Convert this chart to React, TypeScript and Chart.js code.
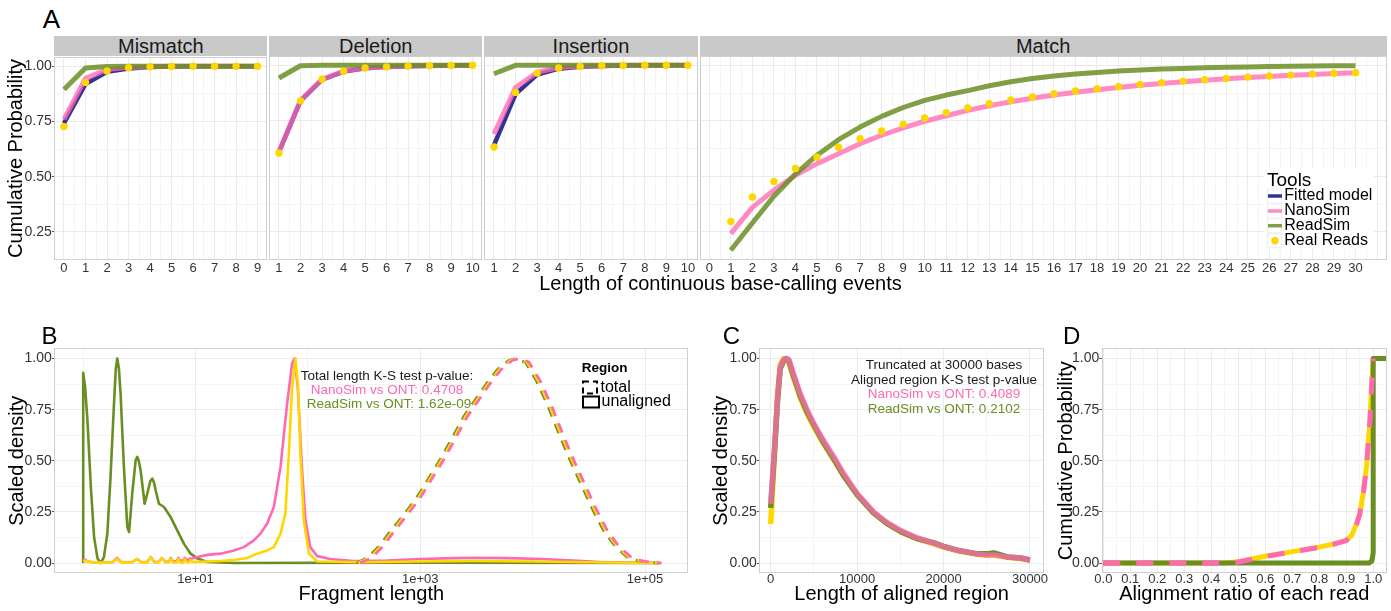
import React, { useEffect, useRef } from 'react';
import { Chart, registerables } from 'chart.js';

Chart.register(...registerables);

const FONT = '"Liberation Sans", Arial, Helvetica, sans-serif';

// ================= Panel A data (cumulative probability) =================
const mismatchLength = [0, 1, 2, 3, 4, 5, 6, 7, 8, 9];
const mismatchFitted = [0.742, 0.92, 0.975, 0.99, 0.997, 0.999, 1, 1, 1, 1];
const mismatchNanoSim = [0.76, 0.945, 0.985, 0.995, 0.998, 1, 1, 1, 1, 1];
const mismatchReadSim = [0.895, 0.992, 0.999, 1, 1, 1, 1, 1, 1, 1];
const mismatchReal = [0.727, 0.927, 0.979, 0.993, 0.998, 0.999, 1, 1, 1, 1];

const deletionLength = [1, 2, 3, 4, 5, 6, 7, 8, 9, 10];
const deletionFitted = [0.61, 0.84, 0.935, 0.972, 0.987, 0.993, 0.996, 0.998, 0.999, 1];
const deletionNanoSim = [0.612, 0.843, 0.937, 0.974, 0.988, 0.994, 0.997, 0.998, 0.999, 1];
const deletionReadSim = [0.943, 0.998, 1, 1, 1, 1, 1, 1, 1, 1];
const deletionReal = [0.605, 0.84, 0.937, 0.973, 0.988, 0.993, 0.996, 0.998, 0.999, 1];

const insertionLength = [1, 2, 3, 4, 5, 6, 7, 8, 9, 10];
const insertionFitted = [0.64, 0.87, 0.958, 0.985, 0.994, 0.997, 0.999, 1, 1, 1];
const insertionNanoSim = [0.69, 0.9, 0.968, 0.99, 0.996, 0.998, 0.999, 1, 1, 1];
const insertionReadSim = [0.962, 1, 1, 1, 1, 1, 1, 1, 1, 1];
const insertionReal = [0.632, 0.878, 0.965, 0.988, 0.995, 0.998, 0.999, 1, 1, 1];

const matchLength = [1, 2, 3, 4, 5, 6, 7, 8, 9, 10, 11, 12, 13, 14, 15, 16, 17, 18, 19, 20, 21, 22, 23, 24, 25, 26, 27, 28, 29, 30];
const matchNanoSim = [0.242, 0.36, 0.438, 0.505, 0.557, 0.602, 0.647, 0.685, 0.718, 0.748, 0.773, 0.797, 0.818, 0.836, 0.852, 0.866, 0.879, 0.89, 0.9, 0.91, 0.918, 0.926, 0.933, 0.939, 0.945, 0.95, 0.955, 0.959, 0.963, 0.967];
const matchReadSim = [0.167, 0.29, 0.41, 0.51, 0.595, 0.665, 0.722, 0.77, 0.81, 0.842, 0.866, 0.886, 0.908, 0.926, 0.941, 0.952, 0.961, 0.968, 0.974, 0.979, 0.983, 0.986, 0.989, 0.991, 0.993, 0.995, 0.996, 0.997, 0.998, 0.998];
const matchReal = [0.297, 0.407, 0.477, 0.535, 0.586, 0.631, 0.67, 0.704, 0.734, 0.763, 0.787, 0.808, 0.827, 0.844, 0.857, 0.872, 0.884, 0.895, 0.904, 0.914, 0.922, 0.929, 0.935, 0.941, 0.947, 0.952, 0.956, 0.961, 0.964, 0.967];

const aYTicks = [0.25, 0.5, 0.75, 1.0];
const aYGrid = [0.125, 0.25, 0.375, 0.5, 0.625, 0.75, 0.875, 1.0];

// ================= Panel B data (fragment length densities) =================
const bUnalignedReadSimLength = [1, 1, 1.04, 1.09, 1.17, 1.25, 1.34, 1.43, 1.53, 1.64, 1.75, 1.88, 1.95, 2.01, 2.08, 2.15, 2.31, 2.47, 2.56, 2.73, 2.93, 3.03, 3.12, 3.24, 3.52, 3.72, 3.95, 4.12, 4.28, 4.41, 4.72, 5.23, 6.0, 6.87, 7.87, 9.03, 10.4, 12.7, 21.9, 1000, 135000];
const bUnalignedReadSimDensity = [0, 0.93, 0.86, 0.7, 0.37, 0.127, 0.023, 0, 0.03, 0.144, 0.42, 0.78, 0.95, 1, 0.95, 0.83, 0.454, 0.176, 0.152, 0.34, 0.503, 0.519, 0.5, 0.454, 0.29, 0.34, 0.4, 0.413, 0.39, 0.356, 0.29, 0.274, 0.225, 0.16, 0.095, 0.046, 0.022, 0.005, 0, 0.002, 0];

const bUnalignedNanoSimLength = [1, 1.1, 1.3, 1.8, 2, 2.2, 2.7, 3, 3.3, 3.7, 4, 4.3, 4.7, 5, 5.4, 5.8, 6, 6.3, 6.8, 7, 7.3, 7.8, 8, 8.4, 8.8, 9, 9.5, 10.4, 12.7, 16.7, 21.9, 26.9, 33, 37.8, 43.4, 49.7, 57, 65.3, 72.3, 75.9, 81.1, 88.7, 95, 105, 121, 158, 255, 500, 1000, 2000, 3000, 6000, 12000, 23000, 40000, 63000, 135000];
const bUnalignedNanoSimDensity = [0.02, 0.008, 0.002, 0.003, 0.025, 0.003, 0.003, 0.02, 0.004, 0.004, 0.03, 0.005, 0.006, 0.025, 0.006, 0.008, 0.025, 0.008, 0.01, 0.025, 0.012, 0.014, 0.025, 0.016, 0.018, 0.022, 0.024, 0.03, 0.04, 0.046, 0.062, 0.078, 0.111, 0.144, 0.193, 0.274, 0.47, 0.78, 0.976, 1, 0.861, 0.454, 0.209, 0.078, 0.034, 0.02, 0.01, 0.012, 0.02, 0.024, 0.026, 0.024, 0.02, 0.012, 0.005, 0.002, 0];

const bUnalignedOntLength = [1, 1.3, 1.8, 2, 2.2, 2.7, 3, 3.3, 3.7, 4, 4.3, 4.7, 5, 5.4, 5.8, 6, 6.3, 6.8, 7, 7.3, 7.8, 8, 8.4, 8.8, 9, 9.5, 10.4, 16.7, 21.9, 28.8, 35.3, 43.4, 49.7, 57, 63, 67.6, 72.3, 77.4, 81.8, 85.7, 91.8, 102, 121, 300, 1000, 3000, 10000, 30000, 135000];
const bUnalignedOntDensity = [0.012, 0.002, 0.002, 0.02, 0.002, 0.002, 0.02, 0.002, 0.002, 0.028, 0.003, 0.003, 0.025, 0.003, 0.003, 0.022, 0.003, 0.003, 0.02, 0.003, 0.003, 0.02, 0.004, 0.004, 0.015, 0.005, 0.006, 0.01, 0.015, 0.025, 0.046, 0.062, 0.078, 0.144, 0.242, 0.535, 0.86, 1, 0.86, 0.535, 0.209, 0.046, 0.008, 0.004, 0.008, 0.01, 0.008, 0.004, 0];

const bTotalOntLength = [280, 355, 450, 560, 710, 890, 1000, 1260, 1590, 2000, 2510, 3160, 3980, 5010, 6310, 7240, 8910, 11200, 14100, 17800, 22400, 28200, 35500, 44700, 56200, 70800, 89100, 112000, 135000];
const bTotalOnt = [0, 0.028, 0.085, 0.155, 0.225, 0.295, 0.335, 0.425, 0.515, 0.615, 0.715, 0.795, 0.875, 0.945, 0.99, 1, 0.982, 0.89, 0.77, 0.63, 0.5, 0.38, 0.26, 0.155, 0.082, 0.032, 0.011, 0.003, 0];
const bTotalReadSimLength = [272, 344, 437, 543, 689, 863, 970, 1222, 1542, 1940, 2435, 3065, 3861, 4860, 6121, 7023, 8643, 10864, 13677, 17266, 21728, 27354, 34435, 43359, 54514, 68676, 86427, 108640, 130950];
const bTotalReadSim = [0, 0.03, 0.087, 0.157, 0.226, 0.296, 0.336, 0.426, 0.516, 0.616, 0.716, 0.796, 0.876, 0.946, 0.99, 1, 0.981, 0.888, 0.768, 0.628, 0.498, 0.378, 0.258, 0.153, 0.081, 0.031, 0.011, 0.003, 0];
const bTotalNanoSimLength = [291, 369, 468, 582, 738, 926, 1040, 1310, 1654, 2080, 2610, 3286, 4139, 5210, 6562, 7530, 9266, 11648, 14664, 18512, 23296, 29328, 36920, 46488, 58448, 73632, 92664, 116480, 140400];
const bTotalNanoSim = [0, 0.026, 0.083, 0.153, 0.224, 0.294, 0.334, 0.424, 0.514, 0.614, 0.714, 0.794, 0.874, 0.944, 0.99, 1, 0.983, 0.892, 0.772, 0.632, 0.502, 0.382, 0.262, 0.157, 0.083, 0.033, 0.012, 0.003, 0];

const bXTicks = [10, 1000, 100000];
const bXTickLabels = ['1e+01', '1e+03', '1e+05'];
const bXGrid = [1, 10, 100, 1000, 10000, 100000];

// ================= Panel C data (aligned region length) =================
const cLength = [0, 400, 800, 1100, 1500, 1800, 2100, 2600, 3400, 4200, 5000, 6100, 7300, 8400, 10000, 11900, 13400, 15000, 16900, 18800, 20000, 21900, 23900, 25000, 25800, 27400, 28900, 30000];
const cNanoSim = [0.29, 0.54, 0.81, 0.96, 0.995, 1, 0.995, 0.93, 0.83, 0.75, 0.68, 0.6, 0.52, 0.44, 0.34, 0.25, 0.2, 0.16, 0.124, 0.098, 0.08, 0.06, 0.045, 0.04, 0.04, 0.03, 0.025, 0.015];
const cReadSim = [0.27, 0.52, 0.8, 0.95, 0.99, 1, 0.99, 0.92, 0.82, 0.74, 0.675, 0.59, 0.51, 0.43, 0.335, 0.245, 0.195, 0.155, 0.12, 0.1, 0.082, 0.06, 0.045, 0.045, 0.05, 0.03, 0.025, 0.015];
const cOnt = [0.19, 0.5, 0.83, 0.97, 1, 0.995, 0.98, 0.91, 0.81, 0.73, 0.665, 0.585, 0.505, 0.43, 0.335, 0.245, 0.195, 0.155, 0.12, 0.095, 0.078, 0.058, 0.043, 0.038, 0.038, 0.028, 0.022, 0.015];
const cXTicks = [0, 10000, 20000, 30000];
const cXGrid = [0, 5000, 10000, 15000, 20000, 25000, 30000];

// ================= Panel D data (alignment ratio CDF) =================
const dRatio = [0, 0.45, 0.5, 0.55, 0.6, 0.7, 0.8, 0.85, 0.9, 0.92, 0.938, 0.95, 0.963, 0.975, 0.988, 0.994, 1];
const dOnt = [0, 0, 0.006, 0.02, 0.033, 0.056, 0.078, 0.092, 0.111, 0.135, 0.19, 0.24, 0.34, 0.47, 0.7, 0.86, 1];
const dNanoSim = [0, 0, 0.005, 0.019, 0.032, 0.055, 0.077, 0.091, 0.11, 0.134, 0.188, 0.238, 0.338, 0.468, 0.7, 0.86, 1];
const dReadSimRatio = [0, 0.985, 0.995, 1, 1, 1.05];
const dReadSim = [0, 0, 0.01, 0.05, 1, 1];
const dXTicks = [0, 0.1, 0.2, 0.3, 0.4, 0.5, 0.6, 0.7, 0.8, 0.9, 1.0];
const dXGrid = [0, 0.05, 0.1, 0.15, 0.2, 0.25, 0.3, 0.35, 0.4, 0.45, 0.5, 0.55, 0.6, 0.65, 0.7, 0.75, 0.8, 0.85, 0.9, 0.95, 1.0, 1.05];

const densityTicks = [0, 0.25, 0.5, 0.75, 1];
const densityGrid = [0, 0.125, 0.25, 0.375, 0.5, 0.625, 0.75, 0.875, 1];

// ================= Styling =================
const PINK = '#ff69b4';
const PINK_A = 'rgba(255,105,180,0.78)';
const PINK_C = 'rgba(255,105,180,0.75)';
const GREEN = '#6b8e23';
const GREEN_A = 'rgba(107,142,35,0.85)';
const BLUE_A = 'rgba(38,40,140,0.95)';
const GOLD = '#ffd700';
const GRID_MAJOR = '#ebebeb';
const GRID_MINOR = '#f5f5f5';
const PANEL_BORDER = '#cfcfcf';
const TICK_COLOR = '#333333';
const TICK_MARK = '#555555';

type Box = { l: number; t: number; w: number; h: number };
type Area = { l: number; t: number; r: number; b: number };

const near = (a: number, b: number) => Math.abs(a - b) < 1e-9 * Math.max(1, Math.abs(b));
const pts = (xs: number[], ys: number[]) => xs.map((x, i) => ({ x, y: ys[i] }));

function gridScale(o: any) {
  const tickLen = o.tickMarks ? 2.5 : 0;
  return {
    type: o.type || 'linear',
    min: o.min,
    max: o.max,
    afterBuildTicks: (s: any) => {
      s.ticks = o.values.map((v: number) => ({ value: v }));
    },
    ticks: {
      display: o.showLabels,
      autoSkip: false,
      maxRotation: 0,
      minRotation: 0,
      padding: o.pad,
      color: TICK_COLOR,
      font: { family: FONT, size: o.size, lineHeight: 1 },
      callback: (v: number) => o.label(v),
    },
    grid: {
      display: true,
      drawTicks: !!o.tickMarks,
      tickLength: tickLen,
      tickWidth: 1,
      tickColor: (c: any) => (c.tick && o.label(c.tick.value) !== '' ? TICK_MARK : 'rgba(0,0,0,0)'),
      lineWidth: 1,
      color: (c: any) => (c.tick && o.major(c.tick.value) ? GRID_MAJOR : GRID_MINOR),
    },
    border: { display: false },
    title: o.title
      ? {
          display: true,
          text: o.title,
          color: '#000',
          font: { family: FONT, size: 20, lineHeight: 1.2 },
          padding: { top: o.titlePad, bottom: o.titlePad },
        }
      : { display: false },
  };
}

function makeOptions(box: Box, area: Area, x: any, y: any) {
  x.afterFit = (s: any) => {
    s.height = box.t + box.h - area.b;
  };
  y.afterFit = (s: any) => {
    s.width = area.l - box.l;
  };
  return {
    responsive: false,
    maintainAspectRatio: false,
    animation: false,
    devicePixelRatio: 1,
    events: [],
    layout: {
      autoPadding: false,
      padding: { left: 0, bottom: 0, top: area.t - box.t, right: box.l + box.w - area.r },
    },
    plugins: { legend: { display: false }, tooltip: { enabled: false }, title: { display: false } },
    scales: { x, y },
  };
}

const panelBorder = {
  id: 'panelBorder',
  afterDraw(chart: any) {
    const { ctx, chartArea: a } = chart;
    ctx.save();
    ctx.strokeStyle = PANEL_BORDER;
    ctx.lineWidth = 1;
    const l = Math.round(a.left), t = Math.round(a.top), r = Math.round(a.right), b = Math.round(a.bottom);
    ctx.strokeRect(l + 0.5, t + 0.5, r - l - 1, b - t - 1);
    ctx.restore();
  },
};

function overlay(id: string, box: Box, hook: string, draw: (ctx: CanvasRenderingContext2D) => void) {
  return {
    id,
    [hook](chart: any) {
      const ctx = chart.ctx;
      ctx.save();
      ctx.translate(-box.l, -box.t);
      draw(ctx);
      ctx.restore();
    },
  };
}

function txt(ctx: CanvasRenderingContext2D, s: string, x: number, y: number, o: any = {}) {
  ctx.font = `${o.bold ? 'bold ' : ''}${o.size || 14}px ${FONT}`;
  ctx.fillStyle = o.color || '#1a1a1a';
  ctx.textAlign = o.align || 'left';
  ctx.textBaseline = 'middle';
  ctx.fillText(s, x, y);
}

function lineDs(label: string, data: any[], color: string, width: number, dash?: number[], dashOffset = 0) {
  return {
    label,
    data,
    borderColor: color,
    backgroundColor: color,
    borderWidth: width,
    borderDash: dash || [],
    borderDashOffset: dashOffset,
    borderCapStyle: 'butt',
    borderJoinStyle: 'round',
    pointRadius: 0,
    fill: false,
    tension: 0,
  };
}

function pointDs(label: string, data: any[], color: string, r: number) {
  return {
    label,
    data,
    showLine: false,
    pointRadius: r,
    pointBackgroundColor: color,
    pointBorderWidth: 0,
    borderColor: color,
    backgroundColor: color,
  };
}

// ================= Panel A facets =================
const A_TOP = 56;
const A_BOTTOM = 260;
const A_Y_MIN = 0.123;
const A_Y_MAX = 1.042;

const facetSpecs = [
  { name: 'Mismatch', xs: mismatchLength, fitted: mismatchFitted, nano: mismatchNanoSim, read: mismatchReadSim, real: mismatchReal, al: 54.3, ar: 267.3, xmin: -0.45, xmax: 9.45, labelMax: 9 },
  { name: 'Deletion', xs: deletionLength, fitted: deletionFitted, nano: deletionNanoSim, read: deletionReadSim, real: deletionReal, al: 269.3, ar: 482.3, xmin: 0.55, xmax: 10.45, labelMax: 10 },
  { name: 'Insertion', xs: insertionLength, fitted: insertionFitted, nano: insertionNanoSim, read: insertionReadSim, real: insertionReal, al: 484.3, ar: 697.6, xmin: 0.55, xmax: 10.45, labelMax: 10 },
  { name: 'Match', xs: matchLength, fitted: null as number[] | null, nano: matchNanoSim, read: matchReadSim, real: matchReal, al: 699.6, ar: 1386.7, xmin: -0.45, xmax: 31.45, labelMax: 30 },
];

function facetBox(i: number): Box {
  const f = facetSpecs[i];
  const l = i === 0 ? 0 : Math.floor(f.al);
  return { l, t: 50, w: Math.ceil(f.ar) + 1 - l, h: 232 };
}

function toolsLegend(box: Box) {
  return overlay('toolsLegend', box, 'afterDraw', (ctx) => {
    ctx.fillStyle = '#ffffff';
    ctx.fillRect(1264, 169, 110, 80);
    txt(ctx, 'Tools', 1267, 181, { size: 19, color: '#000' });
    const rows = [
      { label: 'Fitted model', color: BLUE_A, y: 196 },
      { label: 'NanoSim', color: PINK_A, y: 211 },
      { label: 'ReadSim', color: GREEN_A, y: 225.7 },
      { label: 'Real Reads', color: GOLD, y: 240.7 },
    ];
    rows.forEach((r, k) => {
      ctx.strokeStyle = '#eeeeee';
      ctx.lineWidth = 1;
      ctx.strokeRect(1267.5, r.y - 7, 14, 14);
      if (k < 3) {
        ctx.strokeStyle = r.color;
        ctx.lineWidth = 3.5;
        ctx.beginPath();
        ctx.moveTo(1268, r.y);
        ctx.lineTo(1282, r.y);
        ctx.stroke();
      } else {
        ctx.fillStyle = GOLD;
        ctx.beginPath();
        ctx.arc(1275, r.y, 3.7, 0, Math.PI * 2);
        ctx.fill();
      }
      txt(ctx, r.label, 1284.3, r.y, { size: 16, color: '#000' });
    });
  });
}

function facetConfig(i: number) {
  const f = facetSpecs[i];
  const box = facetBox(i);
  const area = { l: f.al, t: A_TOP, r: f.ar, b: A_BOTTOM };
  const xVals: number[] = [];
  for (let v = Math.ceil(f.xmin * 2) / 2; v <= f.xmax + 1e-9; v += 0.5) xVals.push(v);
  const x = gridScale({
    min: f.xmin,
    max: f.xmax,
    values: xVals,
    major: (v: number) => Number.isInteger(v),
    label: (v: number) => (Number.isInteger(v) && v <= f.labelMax ? String(v) : ''),
    showLabels: true,
    size: 13,
    pad: 1.8,
  });
  const y = gridScale({
    min: A_Y_MIN,
    max: A_Y_MAX,
    values: aYGrid,
    major: (v: number) => aYTicks.some((t) => near(v, t)),
    label: (v: number) => (aYTicks.some((t) => near(v, t)) ? v.toFixed(2) : ''),
    showLabels: i === 0,
    tickMarks: i === 0,
    size: 14,
    pad: 0,
    title: i === 0 ? 'Cumulative Probability' : undefined,
    titlePad: 4,
  });
  const datasets: any[] = [
    pointDs('Real Reads', pts(f.xs, f.real), GOLD, 3.7),
    lineDs('ReadSim', pts(f.xs, f.read), GREEN_A, 5),
    lineDs('NanoSim', pts(f.xs, f.nano), PINK_A, 5),
  ];
  if (f.fitted) datasets.push(lineDs('Fitted model', pts(f.xs, f.fitted), BLUE_A, 4.5));
  const plugins: any[] = [panelBorder];
  if (f.name === 'Match') plugins.push(toolsLegend(box));
  return { type: 'line', data: { datasets }, options: makeOptions(box, area, x, y), plugins };
}

// ================= Panels B, C, D =================
const bBox: Box = { l: 0, t: 330, w: 700, h: 281 };
const bArea: Area = { l: 54.3, t: 348.3, r: 688.3, b: 573.3 };
const cBox: Box = { l: 706, t: 330, w: 344, h: 281 };
const cArea: Area = { l: 759.3, t: 348.3, r: 1044, b: 573.3 };
const dBox: Box = { l: 1049, t: 330, w: 342, h: 281 };
const dArea: Area = { l: 1101.7, t: 348.3, r: 1386.7, b: 573.3 };

function densityY(title: string, titlePad: number) {
  return gridScale({
    min: -0.05,
    max: 1.05,
    values: densityGrid,
    major: (v: number) => densityTicks.some((t) => near(v, t)),
    label: (v: number) => (densityTicks.some((t) => near(v, t)) ? v.toFixed(2) : ''),
    showLabels: true,
    tickMarks: true,
    size: 14,
    pad: 0,
    title,
    titlePad,
  });
}

function bConfig() {
  const x = gridScale({
    type: 'logarithmic',
    min: 0.553,
    max: 242700,
    values: bXGrid,
    major: (v: number) => bXTicks.some((t) => near(v, t)),
    label: (v: number) => {
      const i = bXTicks.findIndex((t) => near(v, t));
      return i >= 0 ? bXTickLabels[i] : '';
    },
    showLabels: true,
    size: 13,
    pad: 0,
    title: 'Fragment length',
    titlePad: 5,
  });
  const y = densityY('Scaled density', 5.7);
  const dash = [10, 8];
  const datasets = [
    lineDs('NanoSim total', pts(bTotalNanoSimLength, bTotalNanoSim), PINK, 2.7, dash, 0),
    lineDs('ONT total', pts(bTotalOntLength, bTotalOnt), GOLD, 2.7, dash, 0),
    lineDs('ReadSim total', pts(bTotalReadSimLength, bTotalReadSim), GREEN, 2.7, dash, 0),
    lineDs('ONT unaligned', pts(bUnalignedOntLength, bUnalignedOntDensity), GOLD, 2.6),
    lineDs('NanoSim unaligned', pts(bUnalignedNanoSimLength, bUnalignedNanoSimDensity), PINK, 2.6),
    lineDs('ReadSim unaligned', pts(bUnalignedReadSimLength, bUnalignedReadSimDensity), GREEN, 2.6),
  ];
  const annotation = overlay('bText', bBox, 'beforeDatasetsDraw', (ctx) => {
    txt(ctx, 'Total length K-S test p-value:', 387, 376, { size: 13.5, align: 'center' });
    txt(ctx, 'NanoSim vs ONT: 0.4708', 387, 390, { size: 13.5, align: 'center', color: PINK });
    txt(ctx, 'ReadSim vs ONT: 1.62e-09', 389, 404, { size: 13.5, align: 'center', color: GREEN });
  });
  const legend = overlay('bLegend', bBox, 'afterDraw', (ctx) => {
    txt(ctx, 'Region', 581.7, 368.3, { size: 13.5, bold: true, color: '#000' });
    ctx.strokeStyle = '#000';
    ctx.lineWidth = 2;
    ctx.setLineDash([6, 4]);
    ctx.strokeRect(583, 381.5, 14, 12);
    ctx.setLineDash([]);
    ctx.strokeRect(583, 396.5, 16, 11);
    txt(ctx, 'total', 600.5, 388, { size: 16, color: '#000' });
    txt(ctx, 'unaligned', 601.5, 402, { size: 16, color: '#000' });
  });
  return { type: 'line', data: { datasets }, options: makeOptions(bBox, bArea, x, y), plugins: [annotation, panelBorder, legend] };
}

function cConfig() {
  const x = gridScale({
    min: -1320,
    max: 31620,
    values: cXGrid,
    major: (v: number) => cXTicks.some((t) => near(v, t)),
    label: (v: number) => (cXTicks.some((t) => near(v, t)) ? String(v) : ''),
    showLabels: true,
    size: 13,
    pad: 0,
    title: 'Length of aligned region',
    titlePad: 5,
  });
  const y = densityY('Scaled density', 3);
  const datasets = [
    lineDs('NanoSim', pts(cLength, cNanoSim), PINK_C, 5.5),
    lineDs('ReadSim', pts(cLength, cReadSim), GREEN, 5.5),
    lineDs('ONT', pts(cLength, cOnt), GOLD, 5.5),
  ];
  const annotation = overlay('cText', cBox, 'beforeDatasetsDraw', (ctx) => {
    txt(ctx, 'Truncated at 30000 bases', 944, 365, { size: 13.5, align: 'center' });
    txt(ctx, 'Aligned region K-S test p-value', 944, 380, { size: 13.5, align: 'center' });
    txt(ctx, 'NanoSim vs ONT: 0.4089', 944, 394.7, { size: 13.5, align: 'center', color: PINK });
    txt(ctx, 'ReadSim vs ONT: 0.2102', 944, 409, { size: 13.5, align: 'center', color: GREEN });
  });
  return { type: 'line', data: { datasets }, options: makeOptions(cBox, cArea, x, y), plugins: [annotation, panelBorder] };
}

function dConfig() {
  const x = gridScale({
    min: -0.006,
    max: 1.05,
    values: dXGrid,
    major: (v: number) => dXTicks.some((t) => near(v, t)),
    label: (v: number) => (dXTicks.some((t) => near(v, t)) ? v.toFixed(1) : ''),
    showLabels: true,
    size: 13,
    pad: 0,
    title: 'Alignment ratio of each read',
    titlePad: 5,
  });
  const y = densityY('Cumulative Probability', 5);
  const datasets = [
    lineDs('NanoSim', pts(dRatio, dNanoSim), PINK, 5, [17, 16], 0),
    lineDs('ReadSim', pts(dReadSimRatio, dReadSim), GREEN, 5),
    lineDs('ONT', pts(dRatio, dOnt), GOLD, 5),
  ];
  return { type: 'line', data: { datasets }, options: makeOptions(dBox, dArea, x, y), plugins: [panelBorder] };
}

// ================= Components =================
function ChartCanvas({ box, make }: { box: Box; make: () => any }) {
  const ref = useRef<HTMLCanvasElement | null>(null);
  useEffect(() => {
    if (!ref.current) return;
    const chart = new Chart(ref.current, make());
    return () => chart.destroy();
  }, []);
  return (
    <canvas
      ref={ref}
      width={box.w}
      height={box.h}
      style={{ position: 'absolute', left: box.l, top: box.t, width: box.w, height: box.h, display: 'block' }}
    />
  );
}

const letterStyle = (left: number, top: number, size: number): React.CSSProperties => ({
  position: 'absolute',
  left,
  top,
  fontFamily: FONT,
  fontSize: size,
  lineHeight: `${size}px`,
  color: '#000',
  whiteSpace: 'nowrap',
});

export default function App() {
  return (
    <div
      style={{
        position: 'absolute',
        left: 0,
        top: 0,
        width: 1391,
        height: 611,
        background: '#ffffff',
        overflow: 'hidden',
        fontFamily: FONT,
      }}
    >
      {facetSpecs.map((f) => (
        <div
          key={f.name}
          style={{
            position: 'absolute',
            left: f.al,
            top: 36,
            width: f.ar - f.al,
            height: 19.5,
            background: '#c9c9c9',
            color: '#1a1a1a',
            fontFamily: FONT,
            fontSize: 20,
            lineHeight: '21px',
            textAlign: 'center',
            whiteSpace: 'nowrap',
          }}
        >
          {f.name}
        </div>
      ))}
      {facetSpecs.map((f, i) => (
        <ChartCanvas key={'c' + f.name} box={facetBox(i)} make={() => facetConfig(i)} />
      ))}
      <div
        style={{
          position: 'absolute',
          left: 420.5,
          top: 272.5,
          width: 600,
          textAlign: 'center',
          fontFamily: FONT,
          fontSize: 20,
          lineHeight: '20px',
          color: '#000',
          whiteSpace: 'nowrap',
        }}
      >
        Length of continuous base-calling events
      </div>
      <ChartCanvas box={bBox} make={bConfig} />
      <ChartCanvas box={cBox} make={cConfig} />
      <ChartCanvas box={dBox} make={dConfig} />
      <div style={letterStyle(42.7, 5.9, 26)}>A</div>
      <div style={letterStyle(41.4, 323.9, 24)}>B</div>
      <div style={letterStyle(722.8, 323.9, 24)}>C</div>
      <div style={letterStyle(1063.1, 323.9, 24)}>D</div>
    </div>
  );
}
